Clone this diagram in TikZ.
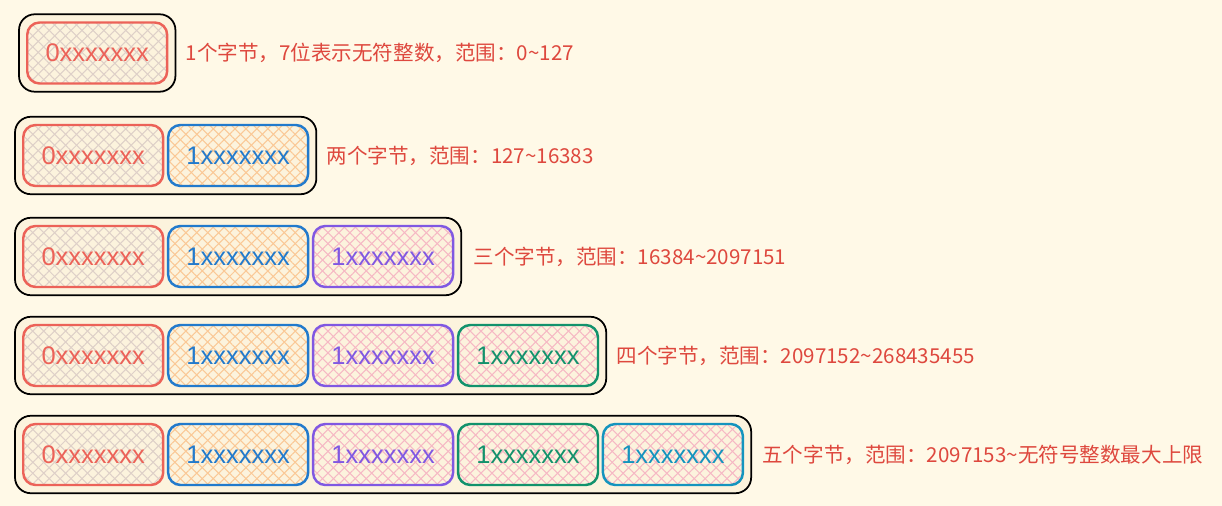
\documentclass[tikz,border=0pt]{standalone}
\usepackage{fontspec}
\setmainfont{Liberation Sans}
\newfontfamily\cjk{Noto Sans CJK SC}
\usetikzlibrary{positioning,fit,backgrounds,patterns.meta}

\definecolor{paper}{RGB}{255,249,231}
\definecolor{boxfill}{RGB}{252,243,221}
\definecolor{labred}{RGB}{222,72,62}
\definecolor{bred}{RGB}{236,98,88}
\definecolor{bblue}{RGB}{34,122,204}
\definecolor{bviolet}{RGB}{128,88,226}
\definecolor{bgreen}{RGB}{18,146,108}
\definecolor{bteal}{RGB}{20,148,190}
\definecolor{hgrey}{RGB}{222,208,200}
\definecolor{horange}{RGB}{250,200,150}
\definecolor{hpink}{RGB}{246,184,196}

\tikzset{
  hatch/.style={
    preaction={fill=boxfill},
    preaction={pattern={Lines[angle=45,distance=4.4pt,line width=0.6pt]},pattern color=#1},
    preaction={pattern={Lines[angle=-45,distance=4.4pt,line width=0.6pt]},pattern color=#1}},
  byte/.style={rounded corners=7pt, line width=1.4pt, minimum width=2.8cm,
    minimum height=1.22cm, font=\fontsize{14.5}{16}\selectfont},
  b0/.style={byte, draw=bred, text=bred, hatch=hgrey},
  b1/.style={byte, draw=bblue, text=bblue, hatch=horange},
  b2/.style={byte, draw=bviolet, text=bviolet, hatch=hpink},
  b3/.style={byte, draw=bgreen, text=bgreen, hatch=hpink},
  b4/.style={byte, draw=bteal, text=bteal, hatch=hpink},
  frame/.style={draw=black, fill=boxfill, rounded corners=9pt, line width=1pt, inner sep=0.14cm},
  lbl/.style={text=labred, font=\cjk\fontsize{11.7}{13}\selectfont, inner sep=0pt}
}

\begin{document}
\begin{tikzpicture}[x=0.02cm, y=-0.02cm, node distance=0.05cm]
  \useasboundingbox (0,0) rectangle (1222,506);

  \node[b0, anchor=west] (A1) at (26,53) {0xxxxxxx};

  \node[b0, anchor=west] (B1) at (22,155.5) {0xxxxxxx};
  \node[b1, right=of B1] (B2) {1xxxxxxx};

  \node[b0, anchor=west] (C1) at (22,256.5) {0xxxxxxx};
  \node[b1, right=of C1] (C2) {1xxxxxxx};
  \node[b2, right=of C2] (C3) {1xxxxxxx};

  \node[b0, anchor=west] (D1) at (22,355.5) {0xxxxxxx};
  \node[b1, right=of D1] (D2) {1xxxxxxx};
  \node[b2, right=of D2] (D3) {1xxxxxxx};
  \node[b3, right=of D3] (D4) {1xxxxxxx};

  \node[b0, anchor=west] (E1) at (22,454.5) {0xxxxxxx};
  \node[b1, right=of E1] (E2) {1xxxxxxx};
  \node[b2, right=of E2] (E3) {1xxxxxxx};
  \node[b3, right=of E3] (E4) {1xxxxxxx};
  \node[b4, right=of E4] (E5) {1xxxxxxx};

  \begin{scope}[on background layer]
    \fill[paper] (0,0) rectangle (1222,506);
    \node[frame, fit=(A1)] (FA) {};
    \node[frame, fit=(B1)(B2)] (FB) {};
    \node[frame, fit=(C1)(C3)] (FC) {};
    \node[frame, fit=(D1)(D4)] (FD) {};
    \node[frame, fit=(E1)(E5)] (FE) {};
  \end{scope}

  \node[lbl, right=0.18cm of FA] (LA) {1个字节，7位表示无符整数，范围：0\textasciitilde{}127};
  \node[lbl, right=0.18cm of FB] (LB) {两个字节，范围：127\textasciitilde{}16383};
  \node[lbl, right=0.22cm of FC] (LC) {三个字节，范围：16384\textasciitilde{}2097151};
  \node[lbl, right=0.18cm of FD] (LD) {四个字节，范围：2097152\textasciitilde{}268435455};
  \node[lbl, right=0.2cm of FE] (LE) {五个字节，范围：2097153\textasciitilde{}无符号整数最大上限};
\end{tikzpicture}
\end{document}
